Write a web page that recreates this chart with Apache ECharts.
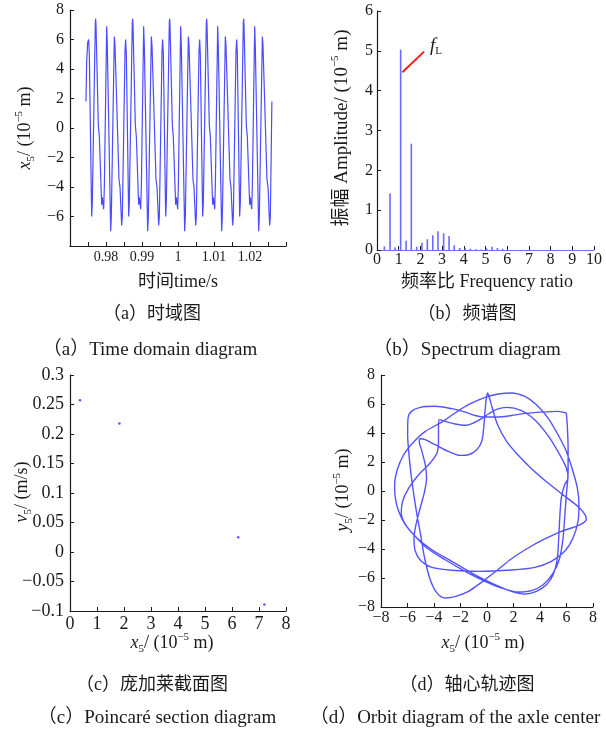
<!DOCTYPE html>
<html><head><meta charset="utf-8">
<script src="https://cdn.jsdelivr.net/npm/echarts@6/dist/echarts.min.js"></script>
<style>html,body{margin:0;padding:0;background:#fff}#c{width:606px;height:730px}</style>
</head><body><div id="c"></div>
<script>
// ---------- (a) time-domain signal x5 (10^-5 m) vs time (s) ----------
const timeT = [
0.97444,0.97463,0.97491,
0.97519,0.97537,0.97602,0.97620,0.97704,0.97713,0.97722,0.97787,0.97815,0.97880,0.97898,0.97935,0.97954,0.98019,0.98037,0.98130,0.98148,0.98231,0.98250,0.98361,0.98389,0.98435,0.98454,0.98528,
0.98546,0.98565,0.98630,0.98648,0.98731,0.98741,0.98750,0.98815,0.98843,0.98907,0.98926,0.98963,0.98982,0.99046,0.99065,0.99157,0.99176,0.99259,0.99278,0.99389,0.99417,0.99463,0.99482,0.99556,
0.99574,0.99593,0.99657,0.99676,0.99759,0.99769,0.99778,0.99843,0.99870,0.99935,0.99954,0.99991,1.00009,1.00074,1.00093,1.00185,1.00204,1.00287,1.00306,1.00417,1.00444,1.00491,1.00509,1.00583,
1.00602,1.00620,1.00685,1.00704,1.00787,1.00796,1.00806,1.00870,1.00898,1.00963,1.00982,1.01019,1.01037,1.01102,1.01120,1.01213,1.01232,1.01315,1.01333,1.01445,1.01472,1.01519,1.01537,1.01611,
1.01630,1.01648,1.01713,1.01732,1.01815,1.01824,1.01833,1.01898,1.01926,1.01991,1.02009,1.02046,1.02065,1.02130,1.02148,1.02241,1.02259,1.02343,1.02361,1.02472,1.02500,1.02546,1.02565,1.02608
];
const timeX = [
1.8,4.5,5.8,
6.0,5.0,-6.0,-5.0,7.2,7.4,7.0,0.2,-0.6,-5.2,-4.7,-5.5,-4.0,6.9,5.5,-7.0,-6.0,6.2,5.6,-3.5,-4.0,-6.6,-6.0,5.2,
6.0,5.0,-6.0,-5.0,7.2,7.4,7.0,0.2,-0.6,-5.2,-4.7,-5.5,-4.0,6.9,5.5,-7.0,-6.0,6.2,5.6,-3.5,-4.0,-6.6,-6.0,5.2,
6.0,5.0,-6.0,-5.0,7.2,7.4,7.0,0.2,-0.6,-5.2,-4.7,-5.5,-4.0,6.9,5.5,-7.0,-6.0,6.2,5.6,-3.5,-4.0,-6.6,-6.0,5.2,
6.0,5.0,-6.0,-5.0,7.2,7.4,7.0,0.2,-0.6,-5.2,-4.7,-5.5,-4.0,6.9,5.5,-7.0,-6.0,6.2,5.6,-3.5,-4.0,-6.6,-6.0,5.2,
6.0,5.0,-6.0,-5.0,7.2,7.4,7.0,0.2,-0.6,-5.2,-4.7,-5.5,-4.0,6.9,5.5,-7.0,-6.0,6.2,5.6,-3.5,-4.0,-6.6,-6.0,1.8
];
const timeTickLabels = ['0.98','0.99','1','1.01','1.02'];

// ---------- (b) spectrum ----------
const specFreq = [0.34,0.60,0.83,1.09,1.34,1.58,1.83,2.07,2.32,2.57,2.81,3.07,3.32,3.56,3.81,4.06,4.30,4.55,4.79,5.05,5.30,5.55,5.79];
const specAmp  = [0.09,1.42,0.07,5.03,0.23,2.67,0.08,0.18,0.27,0.37,0.47,0.42,0.35,0.12,0.05,0.05,0.03,0.02,0.01,0.04,0.08,0.05,0.03];
const fLineX = [1.17, 2.17];
const fLineY = [4.46, 4.98];

// ---------- (c) Poincare section ----------
const poincX = [0.37, 1.83, 6.23, 7.20];
const poincV = [0.257, 0.218, 0.025, -0.089];

// ---------- (d) axle-centre orbit ----------
const orbitX = [
5.99,5.36,4.11,2.86,1.85,0.85,-0.15,-0.9,-1.65,-2.66,-3.91,-5.04,-5.71,-5.96,-5.99,-5.91,-5.76,-5.56,-5.29,-5.01,-4.71,-4.29,-3.78,-3.16,-2.41,-1.4,-0.4,0.6,1.85,3.11,4.36,5.61,6.62,7.24,7.49,
7.44,6.99,5.99,4.61,3.36,2.36,1.48,0.8,0.4,0.15,0.05,-0.05,-0.15,-0.25,-0.4,-0.78,-1.4,-2.03,-2.91,-3.91,-4.66,-5.04,-5.11,-4.91,-4.66,-4.56,-4.71,-5.04,-5.36,-5.51,-5.41,-4.96,-4.16,-2.66,-0.65,1.85,3.61,4.86,5.86,6.49,6.87,6.94,6.82,6.49,5.99,5.36,4.61,3.73,2.86,1.85,0.85,-0.15,-1.4,-2.41,-3.41,-4.66,-5.54,-6.29,-6.77,-6.97,
-6.92,-6.67,-6.17,-5.29,-4.16,-2.66,-1.15,0.35,1.85,2.86,3.73,4.49,4.99,5.31,5.41,5.49,5.61,5.86,6.12,
5.99,5.49,4.74,3.73,2.61,1.48,0.73,0.1,-0.4,-1.03,-1.65,-2.41,-3.16,-3.58,-3.66,-3.66,-3.78,-4.29,-5.16,-5.91,-6.37,-6.47,-6.22,-5.54,-4.54,-3.16,-1.65,-0.15,1.1,2.36,3.36,4.24,4.99,5.49,5.74,5.86,5.99,6.12,6.12,6.07,6.02,5.99
];
const orbitY = [
5.38,5.49,5.44,5.35,5.21,5.10,5.10,5.21,5.44,5.68,5.84,5.77,5.49,5.03,3.88,2.73,1.35,-0.03,-1.63,-3.01,-4.62,-6.10,-7.03,-7.38,-7.28,-6.92,-6.28,-5.59,-4.67,-3.93,-3.31,-2.78,-2.48,-2.21,-1.98,
-1.70,-1.17,-0.44,0.55,1.54,2.46,3.42,4.57,5.72,6.53,6.76,6.41,5.49,4.34,3.42,2.85,2.50,2.46,2.73,3.19,3.54,3.60,3.42,2.73,1.81,0.89,-0.03,-1.17,-2.32,-3.24,-4.16,-4.85,-5.27,-5.47,-5.54,-5.45,-5.27,-4.85,-4.16,-3.24,-2.09,-0.94,0.20,1.35,2.73,3.88,5.03,5.95,6.52,6.76,6.69,6.46,5.95,5.38,4.75,4.11,3.38,2.50,1.47,0.43,
-0.48,-1.40,-2.32,-3.24,-4.05,-4.85,-5.66,-6.35,-6.92,-7.10,-6.92,-6.46,-5.77,-4.62,-3.24,-1.86,-0.48,0.43,0.89,
1.58,2.50,3.65,4.80,5.54,5.77,5.63,5.31,4.99,4.69,4.53,4.62,4.80,4.92,4.57,3.42,2.62,1.93,1.12,0.20,-0.71,-1.52,-2.21,-3.01,-3.93,-4.74,-5.54,-6.23,-6.69,-6.97,-6.87,-6.46,-5.66,-4.62,-3.24,-1.86,-0.25,1.35,2.96,4.34,5.03,5.38
];

// ---------- helpers ----------
const SERIF = "'Liberation Serif','Noto Sans CJK SC',serif";
const INK = '#1a1a1a';
const minus = s => String(s).replace('-', '\u2212');
function mkRich(fs) {
  const lh = Math.round(fs * 1.3);
  return {
    n:   {fontFamily: SERIF, fontSize: fs, lineHeight: lh, fill: INK, color: INK},
    it:  {fontFamily: SERIF, fontSize: fs, fontStyle: 'italic', lineHeight: lh, color: INK},
    sub: {fontFamily: SERIF, fontSize: Math.round(fs * 0.62), lineHeight: Math.round(fs * 0.62), verticalAlign: 'bottom', color: INK},
    sup: {fontFamily: SERIF, fontSize: Math.round(fs * 0.6), lineHeight: Math.round(fs * 0.6), verticalAlign: 'top', color: INK}
  };
}
function txt(x, y, text, fs, rot) {
  return {
    type: 'text', x: x, y: y, rotation: rot ? Math.PI / 2 : 0,
    style: {text: text, rich: mkRich(fs), fontFamily: SERIF, fontSize: fs, fill: INK,
            align: 'center', verticalAlign: 'middle'}
  };
}
function axis(gi, min, max, interval, fs, margin, fmt) {
  return {
    type: 'value', gridIndex: gi, min: min, max: max, interval: interval,
    axisLine: {show: true, onZero: false, lineStyle: {color: INK, width: 1.2}},
    axisTick: {show: true, inside: true, length: 4, lineStyle: {color: INK, width: 1}},
    splitLine: {show: false},
    axisLabel: {fontFamily: SERIF, fontSize: fs, color: INK, margin: margin, interval: 0,
                showMinLabel: true, showMaxLabel: true, formatter: fmt}
  };
}
const unitM = '{it|x}{sub|5}{n|/ (10}{sup|\u22125}{n| m)}';

const chart = echarts.init(document.getElementById('c'), null, {renderer: 'canvas'});
chart.setOption({
  animation: false,
  backgroundColor: '#ffffff',
  grid: [
    {left: 70, top: 10, width: 216, height: 236},
    {left: 377, top: 11, width: 217, height: 239},
    {left: 70, top: 375, width: 216, height: 236},
    {left: 381, top: 375, width: 212, height: 232}
  ],
  xAxis: [
    axis(0, 0.97, 1.03, 0.005, 14, 4, v => {
      const k = Math.round(v * 1000);
      if (k % 10 !== 0) return '';
      const s = k === 1000 ? '1' : (k / 1000).toFixed(2);
      return timeTickLabels.indexOf(s) >= 0 ? s : '';
    }),
    Object.assign(axis(1, 0, 10, 1, 16, 2, v => String(v)),
      {axisLine: {show: true, onZero: false, lineStyle: {color: '#7070ff', width: 1.2}}}),
    axis(2, 0, 8, 1, 18, 4, v => String(v)),
    axis(3, -8, 8, 2, 16, 3, v => minus(v))
  ],
  yAxis: [
    axis(0, -8, 8, 2, 16, 6, v => v === -8 ? '' : minus(v)),
    axis(1, 0, 6, 1, 16, 4, v => String(v)),
    axis(2, -0.1, 0.3, 0.05, 18, 6, v => minus(Number(v.toFixed(2)))),
    axis(3, -8, 8, 2, 16, 6, v => minus(v))
  ],
  series: [
    {
      type: 'line', xAxisIndex: 0, yAxisIndex: 0, symbol: 'none',
      data: timeT.map((t, i) => [t, timeX[i]]),
      lineStyle: {color: '#4b4bff', width: 1.2}
    },
    {
      type: 'bar', xAxisIndex: 1, yAxisIndex: 1, barWidth: 1.6,
      data: specFreq.map((f, i) => [f, specAmp[i]]),
      itemStyle: {color: 'rgba(80,80,255,0.85)'}
    },
    {
      type: 'line', xAxisIndex: 1, yAxisIndex: 1, symbol: 'none',
      data: fLineX.map((f, i) => [f, fLineY[i]]),
      lineStyle: {color: '#ff1a1a', width: 2},
      endLabel: {
        show: true, distance: 6, offset: [0, -6],
        formatter: '{f|f}{l|L}',
        rich: {
          f: {fontFamily: SERIF, fontStyle: 'italic', fontSize: 19, lineHeight: 22, color: INK},
          l: {fontFamily: SERIF, fontSize: 11, lineHeight: 11, verticalAlign: 'bottom', color: INK}
        }
      }
    },
    {
      type: 'scatter', xAxisIndex: 2, yAxisIndex: 2, symbolSize: 2.5,
      data: poincX.map((x, i) => [x, poincV[i]]),
      itemStyle: {color: '#2a2aff'}
    },
    {
      type: 'line', xAxisIndex: 3, yAxisIndex: 3, symbol: 'none', smooth: 0.3,
      data: orbitX.map((x, i) => [x, orbitY[i]]),
      lineStyle: {color: '#4040ff', width: 1.4, opacity: 0.9}
    }
  ],
  graphic: [
    txt(25, 128, unitM, 18, true),
    txt(178, 282, '{n|时间time/s}', 18),
    txt(342, 128, '{n|振幅 Amplitude/ (10}{sup|\u22125}{n| m)}', 19, true),
    txt(487, 282, '{n|频率比 Frequency ratio}', 18),
    txt(22, 492, '{it|v}{sub|5}{n|/ (m/s)}', 18, true),
    txt(172, 643, unitM, 18),
    txt(343, 490, '{it|y}{sub|5}{n|/ (10}{sup|\u22125}{n| m)}', 18, true),
    txt(483, 643, unitM, 18),
    txt(152, 314, '{n|（a）时域图}', 18),
    txt(467, 314, '{n|（b）频谱图}', 18),
    txt(150, 350, '{n|（a）Time domain diagram}', 19),
    txt(467, 350, '{n|（b）Spectrum diagram}', 19),
    txt(152, 685, '{n|（c）庞加莱截面图}', 18),
    txt(467, 685, '{n|（d）轴心轨迹图}', 18),
    txt(157, 718, '{n|（c）Poincaré section diagram}', 19),
    txt(455, 718, '{n|（d）Orbit diagram of the axle center}', 19)
  ]
});
</script>
</body></html>
